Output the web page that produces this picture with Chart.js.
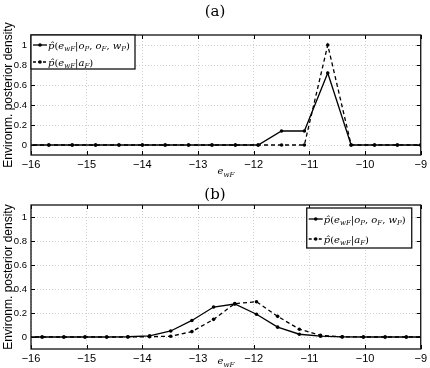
<!DOCTYPE html>
<html>
<head>
<meta charset="utf-8">
<script src="https://cdn.jsdelivr.net/npm/chart.js@4.4.1/dist/chart.umd.min.js"></script>
<style>
  html, body { margin: 0; padding: 0; background: #fff; }
  #wrap { position: relative; width: 430px; height: 368px; }
  canvas { position: absolute; left: 0; }
</style>
</head>
<body>
<div id="wrap">
  <canvas id="cA" width="430" height="180" style="top:0"></canvas>
  <canvas id="cB" width="430" height="188" style="top:180px"></canvas>
</div>
<script>
// ---- data ----
const xA = [-16.09, -15.68, -15.26, -14.84, -14.42, -14.00, -13.59, -13.17, -12.75, -12.33, -11.92, -11.50, -11.09, -10.67, -10.25, -9.83, -9.42, -9.00];
const solidA = [0, 0, 0, 0, 0, 0, 0, 0, 0, 0, 0, 0.14, 0.14, 0.72, 0, 0, 0, 0];
const dashA  = [0, 0, 0, 0, 0, 0, 0, 0, 0, 0, 0, 0, 0, 1.0, 0, 0, 0, 0];

const xB = [-16.18, -15.80, -15.41, -15.03, -14.64, -14.26, -13.87, -13.49, -13.11, -12.72, -12.34, -11.95, -11.57, -11.18, -10.80, -10.41, -10.03, -9.64, -9.26, -8.87];
const solidB = [0, 0, 0, 0, 0, 0.002, 0.01, 0.05, 0.138, 0.25, 0.275, 0.19, 0.082, 0.023, 0.007, 0.001, 0, 0, 0, 0];
const dashB  = [0, 0, 0, 0, 0, 0, 0.003, 0.006, 0.045, 0.147, 0.278, 0.294, 0.172, 0.065, 0.014, 0.002, 0, 0, 0, 0];

const xTicks = [-16, -15, -14, -13, -12, -11, -10, -9];
const yTicks = [0, 0.2, 0.4, 0.6, 0.8, 1];
const yLabel = 'Environm. posterior density';
const titles = ['(a)', '(b)'];
const legend1 = [['p\u0302','i'],['(','r'],['e','i'],['wF','s'],['|','r'],['o','i'],['P','s'],[', ','r'],['o','i'],['F','s'],[', ','r'],['w','i'],['P','s'],[')','r']];
const legend2 = [['p\u0302','i'],['(','r'],['e','i'],['wF','s'],['|','r'],['a','i'],['F','s'],[')','r']];
const xLabel = [['e','i'],['wF','s']];

const SERIF = '"DejaVu Serif", "Liberation Serif", serif';
const SANS = '"Liberation Sans", Arial, sans-serif';

function fontFor(style, size) {
  if (style === 'i') return 'italic ' + size + 'px ' + SERIF;
  if (style === 's') return 'italic ' + Math.round(size * 0.72) + 'px ' + SERIF;
  return size + 'px ' + SERIF;
}
function measureSegs(ctx, segs, size) {
  let w = 0;
  for (const [t, st] of segs) { ctx.font = fontFor(st, size); w += ctx.measureText(t).width; }
  return w;
}
function drawSegs(ctx, segs, x, y, size) {
  ctx.textBaseline = 'alphabetic';
  ctx.textAlign = 'left';
  ctx.fillStyle = '#000';
  for (const [t, st] of segs) {
    ctx.font = fontFor(st, size);
    const dy = st === 's' ? size * 0.28 : 0;
    ctx.fillText(t, x, y + dy);
    x += ctx.measureText(t).width;
  }
}

function makePlugin(idx, legendCfg) {
  return {
    id: 'deco' + idx,
    afterDraw(chart) {
      const ctx = chart.ctx;
      const a = chart.chartArea;
      const xs = chart.scales.x, ys = chart.scales.y;
      ctx.save();
      // inward ticks
      ctx.strokeStyle = '#000';
      ctx.lineWidth = 1;
      ctx.beginPath();
      for (const v of xTicks) {
        const p = Math.round(xs.getPixelForValue(v)) + 0.5;
        ctx.moveTo(p, a.bottom); ctx.lineTo(p, a.bottom - 4);
        ctx.moveTo(p, a.top); ctx.lineTo(p, a.top + 4);
      }
      for (const v of yTicks) {
        const p = Math.round(ys.getPixelForValue(v)) + 0.5;
        ctx.moveTo(a.left, p); ctx.lineTo(a.left + 4, p);
        ctx.moveTo(a.right, p); ctx.lineTo(a.right - 4, p);
      }
      ctx.stroke();
      // frame
      ctx.strokeStyle = '#111';
      ctx.lineWidth = 1.3;
      ctx.strokeRect(a.left, a.top, a.right - a.left, a.bottom - a.top);
      // title
      ctx.fillStyle = '#000';
      ctx.font = '15px ' + SERIF;
      ctx.textAlign = 'center';
      ctx.textBaseline = 'middle';
      ctx.fillText(titles[idx], chart.width / 2, legendCfg.titleY);
      // x label
      const xlW = measureSegs(ctx, xLabel, 10);
      drawSegs(ctx, xLabel, (a.left + a.right) / 2 - xlW / 2, a.bottom + legendCfg.xLabelDy, 10);
      // legend
      const L = legendCfg;
      const bx = L.right ? a.right - L.offX - L.w : a.left + L.offX;
      const by = a.top + L.offY;
      ctx.fillStyle = '#fff';
      ctx.fillRect(bx, by, L.w, L.h);
      ctx.strokeStyle = '#111';
      ctx.lineWidth = 1.3;
      ctx.strokeRect(bx, by, L.w, L.h);
      const rows = [[legend1, []], [legend2, [3, 2]]];
      rows.forEach(([segs, dash], r) => {
        const ry = by + L.rowY[r];
        ctx.strokeStyle = '#000';
        ctx.lineWidth = 1.3;
        ctx.setLineDash(dash);
        ctx.beginPath();
        ctx.moveTo(bx + 2, ry); ctx.lineTo(bx + 16, ry);
        ctx.stroke();
        ctx.setLineDash([]);
        ctx.fillStyle = '#000';
        ctx.beginPath();
        ctx.arc(bx + 9, ry, 1.8, 0, Math.PI * 2);
        ctx.fill();
        drawSegs(ctx, segs, bx + 17, ry + 3.5, 10);
      });
      ctx.restore();
    }
  };
}

function makeChart(id, idx, xs, s1, s2, cfg) {
  const ds = (arr, dash) => ({
    data: xs.map((x, i) => ({ x: x, y: arr[i] })),
    borderColor: '#000',
    backgroundColor: '#000',
    borderWidth: 1.3,
    borderDash: dash,
    pointRadius: 1.8,
    pointBorderWidth: 0,
    pointBackgroundColor: '#000',
    tension: 0,
    fill: false
  });
  return new Chart(document.getElementById(id), {
    type: 'line',
    data: { datasets: [ds(s1, []), ds(s2, [4, 3])] },
    options: {
      responsive: false,
      animation: false,
      events: [],
      layout: { padding: { top: cfg.padTop, right: 4, left: 0, bottom: 0 } },
      plugins: { legend: { display: false }, tooltip: { enabled: false }, title: { display: false } },
      scales: {
        x: {
          type: 'linear', min: -16, max: -9,
          afterBuildTicks: s => { s.ticks = xTicks.map(v => ({ value: v })); },
          afterFit: s => { s.height = cfg.xH; },
          ticks: {
            autoSkip: false, maxRotation: 0, padding: 3, color: '#000',
            font: { family: SANS, size: 11 },
            callback: v => (v < 0 ? '\u2212' + Math.abs(v) : String(v))
          },
          grid: { color: '#c4c4c4', lineWidth: 0.8, drawTicks: false },
          border: { display: false, dash: [1, 2] }
        },
        y: {
          min: -0.1, max: 1.1,
          afterBuildTicks: s => { s.ticks = yTicks.map(v => ({ value: v })); },
          afterFit: s => { s.width = 31; },
          ticks: {
            padding: 4, color: '#000',
            font: { family: SANS, size: 9.5 },
            callback: v => String(Math.round(v * 10) / 10)
          },
          grid: { color: '#c4c4c4', lineWidth: 0.8, drawTicks: false },
          border: { display: false, dash: [1, 2] },
          title: {
            display: true, text: yLabel, color: '#000',
            font: { family: SANS, size: 12 },
            padding: { top: 1, bottom: 0 }
          }
        }
      }
    },
    plugins: [makePlugin(idx, cfg.legend)]
  });
}

makeChart('cA', 0, xA, solidA, dashA, {
  padTop: 35, xH: 25,
  legend: { right: false, offX: 0, offY: 0, w: 104, h: 34, rowY: [10, 27], titleY: 12, xLabelDy: 19 }
});
makeChart('cB', 1, xB, solidB, dashB, {
  padTop: 25, xH: 19,
  legend: { right: true, offX: 9, offY: 3, w: 105, h: 40, rowY: [11, 31], titleY: 15, xLabelDy: 15 }
});
</script>
</body>
</html>
